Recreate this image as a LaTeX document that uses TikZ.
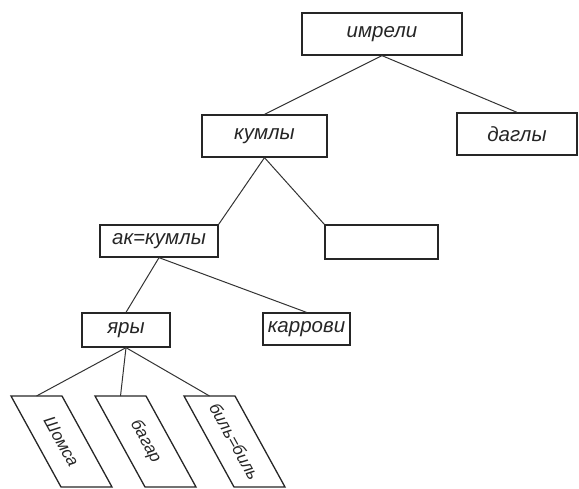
\documentclass[tikz,border=0pt]{standalone}
\usepackage{fontspec}
\setmainfont{Liberation Sans}
\usetikzlibrary{calc}

\begin{document}
\begin{tikzpicture}[x=1pt, y=-1pt, font=\fontsize{20.5}{23}\selectfont\itshape]
\def \sp {1.3pt}
  \tikzstyle{block} = [draw, color=black!85, rectangle, line width=\sp, inner sep=0, text=black!85]
  \tikzstyle{lines} = [black!80, line width=1pt, -]
  \tikzstyle{slant} = [draw, black!85, line width=\sp]
  \tikzstyle{slanttext} = [text=black!85, rotate=-61, inner sep=0, font=\fontsize{17}{20}\selectfont\itshape]

%%%%%%%%%%%%%%%%%%%%%%%%%%%%%%%%%%%%%%%%%%%%%%%%%%%%%%%%%%%%%%%%%%%%%%%%%%%%%%%

\useasboundingbox (0,0) rectangle (579,489);

\coordinate (imreli_pose) at (382, 34);
\coordinate (dagly_pose) at (517, 134);
\coordinate (kumly_pose) at (264.5, 136);
\coordinate (akkumly_pose) at (159, 241);
\coordinate (empty_pose) at (381.5, 242);
\coordinate (yary_pose) at (126, 330);
\coordinate (karrovi_pose) at (306.5, 329);

%%%%%%%%%%%%%%%%%%%%%%%%%%%%%%%%%%%%%%%%%%%%%%%%%%%%%%%%%%%%%%%%%%%%%%%%%%%%%%%

\node[block, minimum width=160pt, minimum height=42pt] (imreli) at (imreli_pose) {имрели};
\node[block, minimum width=120pt, minimum height=42pt] (dagly) at (dagly_pose) {даглы};
\node[block, minimum width=125pt, minimum height=42pt] (kumly) at (kumly_pose) {кумлы};
\node[block, minimum width=118pt, minimum height=32pt] (akkumly) at (akkumly_pose) {ак=кумлы};
\node[block, minimum width=113pt, minimum height=34pt] (empty) at (empty_pose) {};
\node[block, minimum width=88pt, minimum height=34pt] (yary) at (yary_pose) {яры};
\node[block, minimum width=87pt, minimum height=32pt] (karrovi) at (karrovi_pose) {каррови};

% slanted boxes, cut by the lower edge
\foreach \x/\name/\txt in {11/shomsa/Шомса, 95/bagar/багар, 184/bil/биль=биль} {
  \draw[slant] (\x,396) -- ++(51,0) -- ++(50,91) -- ++(-51,0) -- cycle;
  \node[slanttext] (\name) at (\x+50.5, 441.5) {\txt};
  \coordinate (\name_top) at (\x+25.5, 396);
}

%%%%%%%%%%%%%%%%%%%%%%%%%%%%%%%%%%%%%%%%%%%%%%%%%%%%%%%%%%%%%%%%%%%%%%%%%%%%%%%

\draw[lines] (imreli.south) -- (kumly.north);
\draw[lines] (imreli.south) -- (dagly.north);
\draw[lines] (kumly.south) -- (akkumly.north east);
\draw[lines] (kumly.south) -- (empty.north west);
\draw[lines] (akkumly.south) -- (yary.north);
\draw[lines] (akkumly.south) -- (karrovi.north);
\draw[lines] (yary.south) -- (shomsa_top);
\draw[lines] (yary.south) -- (bagar_top);
\draw[lines] (yary.south) -- (bil_top);

\end{tikzpicture}
\end{document}
